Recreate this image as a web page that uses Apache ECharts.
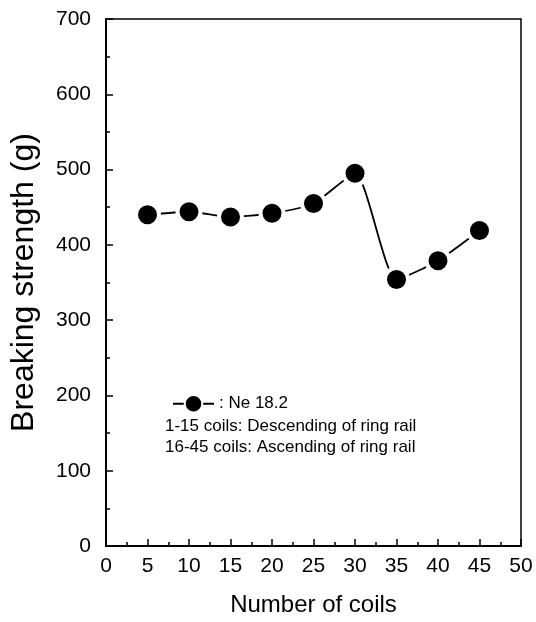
<!DOCTYPE html>
<html>
<head>
<meta charset="utf-8">
<script src="https://cdn.jsdelivr.net/npm/echarts@6/dist/echarts.min.js"></script>
<style>html,body{margin:0;padding:0;background:#fff}#c{width:536px;height:622px}</style>
</head>
<body>
<div id="c"></div>
<script>
var coils = [5, 10, 15, 20, 25, 30, 35, 40, 45];
var strength = [440, 444, 437, 442, 455, 495, 354, 379, 419];
var seriesName = ': Ne 18.2';
var noteLines = ['1-15 coils: Descending of ring rail', '16-45 coils: Ascending of ring rail'];
var xName = 'Number of coils';
var yName = 'Breaking strength (g)';

var FONT = '"Liberation Sans", Arial, Helvetica, sans-serif';
var chart = echarts.init(document.getElementById('c'));
var data = coils.map(function (c, i) { return [c, strength[i]]; });

chart.setOption({
  animation: false,
  backgroundColor: '#fff',
  grid: { left: 105, top: 19, right: 15, bottom: 70, show: true, borderColor: '#000', borderWidth: 1.5 },
  legend: {
    left: 167, top: 389,
    data: [seriesName],
    itemWidth: 41, itemHeight: 22,
    textStyle: { fontFamily: FONT, fontSize: 17, color: '#000' }
  },
  graphic: noteLines.map(function (t, i) {
    return { type: 'text', left: 165, top: 418 + i * 21, style: { text: t, font: '17px ' + FONT, fill: '#000' } };
  }),
  xAxis: {
    type: 'value', min: 0, max: 50, interval: 5,
    name: xName, nameLocation: 'middle', nameGap: 47,
    nameTextStyle: { fontFamily: FONT, fontSize: 24, color: '#000' },
    axisLine: { show: true, lineStyle: { color: '#000', width: 2 } },
    axisTick: { show: true, inside: true, length: 7, lineStyle: { color: '#000', width: 1.5 } },
    minorTick: { show: true, splitNumber: 2, length: 4, lineStyle: { color: '#000', width: 1.5 } },
    axisLabel: { fontFamily: FONT, fontSize: 21, color: '#000', margin: 10 },
    splitLine: { show: false }
  },
  yAxis: {
    type: 'value', min: 0, max: 700, interval: 100,
    name: yName, nameLocation: 'middle', nameGap: 66,
    nameTextStyle: { fontFamily: FONT, fontSize: 32, color: '#000' },
    axisLine: { show: true, lineStyle: { color: '#000', width: 2 } },
    axisTick: { show: true, inside: true, length: 7, lineStyle: { color: '#000', width: 1.5 } },
    minorTick: { show: true, splitNumber: 2, length: 4, lineStyle: { color: '#000', width: 1.5 } },
    axisLabel: { fontFamily: FONT, fontSize: 21, color: '#000', margin: 15 },
    splitLine: { show: false }
  },
  series: [{
    name: seriesName,
    type: 'line',
    data: data,
    smooth: 0.2,
    symbol: 'circle',
    symbolSize: 23,
    lineStyle: { color: '#000', width: 1.8 },
    itemStyle: { color: '#000', borderColor: '#fff', borderWidth: 4 }
  }]
});
</script>
</body>
</html>
